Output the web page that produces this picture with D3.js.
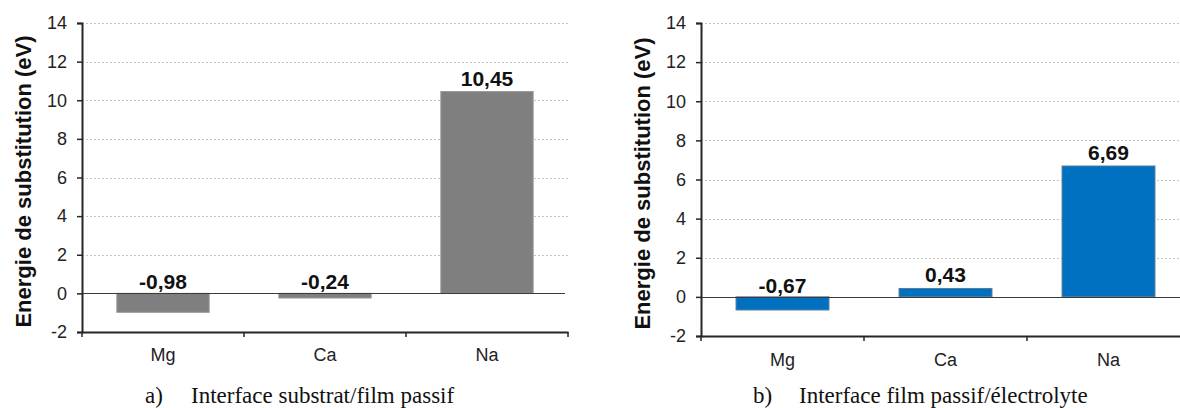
<!DOCTYPE html>
<html><head><meta charset="utf-8">
<script src="https://cdn.jsdelivr.net/npm/d3@7"></script>
<style>body{margin:0;background:#fff}svg{display:block}</style>
</head><body>
<svg id="c" width="1180" height="408"></svg>
<script>
const categories = ["Mg", "Ca", "Na"];
const valuesA = [-0.98, -0.24, 10.45];
const valuesB = [-0.67, 0.43, 6.69];
const labelsA = ["-0,98", "-0,24", "10,45"];
const labelsB = ["-0,67", "0,43", "6,69"];
const yTicks = [-2, 0, 2, 4, 6, 8, 10, 12, 14];
const yTitle = "Energie de substitution (eV)";
const captionTags = ["a)", "b)"];
const captions = ["Interface substrat/film passif", "Interface film passif/électrolyte"];

const svg = d3.select("#c");
const SANS = "'Liberation Sans', Arial, sans-serif";
const SERIF = "'Liberation Serif', 'Times New Roman', serif";

function panel(cfg) {
  const g = svg.append("g");
  const x = d3.scaleBand().domain(categories).range([cfg.x0, cfg.x1]).paddingInner(0.43).paddingOuter(0.215);
  const xb = d3.scaleBand().domain(categories).range([cfg.x0, cfg.x1]);
  const y = d3.scaleLinear().domain([-2, 14]).range([cfg.yBottom, cfg.yTop]);

  // gridlines
  g.append("g").selectAll("line").data(yTicks.filter(t => t !== 0 && t !== -2)).join("line")
    .attr("x1", cfg.x0).attr("x2", cfg.x1).attr("y1", d => Math.round(y(d)) + 0.5).attr("y2", d => Math.round(y(d)) + 0.5)
    .attr("stroke", "#c4c4c4").attr("stroke-width", 1).attr("stroke-dasharray", "2,2");

  // bars
  g.append("g").selectAll("rect").data(cfg.values).join("rect")
    .attr("x", (d, i) => x(categories[i]))
    .attr("width", x.bandwidth())
    .attr("y", d => y(Math.max(0, d)))
    .attr("height", d => Math.abs(y(d) - y(0)))
    .attr("fill", cfg.color).attr("stroke", cfg.stroke).attr("stroke-width", 1);

  // zero line
  g.append("line").attr("x1", cfg.x0).attr("x2", cfg.x1 - 3)
    .attr("y1", Math.round(y(0)) + 0.5).attr("y2", Math.round(y(0)) + 0.5)
    .attr("stroke", "#3a3a3a").attr("stroke-width", 1.2);

  // y axis
  const ya = g.append("g").attr("transform", `translate(${cfg.x0},0)`)
    .call(d3.axisLeft(y).tickValues(yTicks).tickSize(5).tickPadding(10).tickFormat(d => String(d)));
  ya.select(".domain").attr("stroke", "#262626").attr("stroke-width", 2);
  ya.selectAll(".tick line").attr("stroke", "#262626").attr("stroke-width", 1.5);
  ya.selectAll("text").attr("font-family", SANS).attr("font-size", 18).attr("fill", "#222");

  // x axis at bottom
  const xa = g.append("g").attr("transform", `translate(0,${cfg.yBottom})`)
    .call(d3.axisBottom(xb).tickSize(0).tickPadding(cfg.catPad));
  xa.select(".domain").attr("stroke", "#262626").attr("stroke-width", 2);
  xa.selectAll("text").attr("font-family", SANS).attr("font-size", 18).attr("fill", "#222");
  // boundary ticks
  const bounds = categories.map(c => xb(c) + xb.bandwidth()).concat([cfg.x0]);
  g.append("g").selectAll("line").data(bounds).join("line")
    .attr("x1", d => d).attr("x2", d => d).attr("y1", cfg.yBottom).attr("y2", cfg.yBottom + 5)
    .attr("stroke", "#262626").attr("stroke-width", 1.5);

  // value labels
  g.append("g").selectAll("text").data(cfg.values).join("text")
    .attr("x", (d, i) => x(categories[i]) + x.bandwidth() / 2)
    .attr("y", d => d > 0 ? y(d) - 6 : y(0) - 4)
    .attr("text-anchor", "middle")
    .attr("font-family", SANS).attr("font-weight", "bold").attr("font-size", 21)
    .attr("fill", "#111").text((d, i) => cfg.labels[i]);

  // y title
  g.append("text").attr("transform", `translate(${cfg.titleX},${(cfg.yTop + cfg.yBottom) / 2 + 4}) rotate(-90)`)
    .attr("text-anchor", "middle").attr("dy", "0.35em")
    .attr("font-family", SANS).attr("font-weight", "bold").attr("font-size", 22)
    .attr("fill", "#111").text(yTitle);

  // caption
  g.append("text").attr("x", cfg.capTagX).attr("y", 403)
    .attr("font-family", SERIF).attr("font-size", 23).attr("fill", "#111").text(cfg.tag);
  g.append("text").attr("x", cfg.capX).attr("y", 403)
    .attr("font-family", SERIF).attr("font-size", 23).attr("fill", "#111").text(cfg.caption);
}

panel({x0: 82, x1: 568, yTop: 23, yBottom: 332, values: valuesA, labels: labelsA, color: "#7f7f7f", stroke: "#9a9a9a",
  titleX: 23, catPad: 16, tag: captionTags[0], caption: captions[0], capTagX: 145, capX: 191});
panel({x0: 701, x1: 1190, yTop: 23, yBottom: 336, values: valuesB, labels: labelsB, color: "#0070c0", stroke: "#5a7a99",
  titleX: 642, catPad: 17, tag: captionTags[1], caption: captions[1], capTagX: 753, capX: 799});
</script>
</body></html>
